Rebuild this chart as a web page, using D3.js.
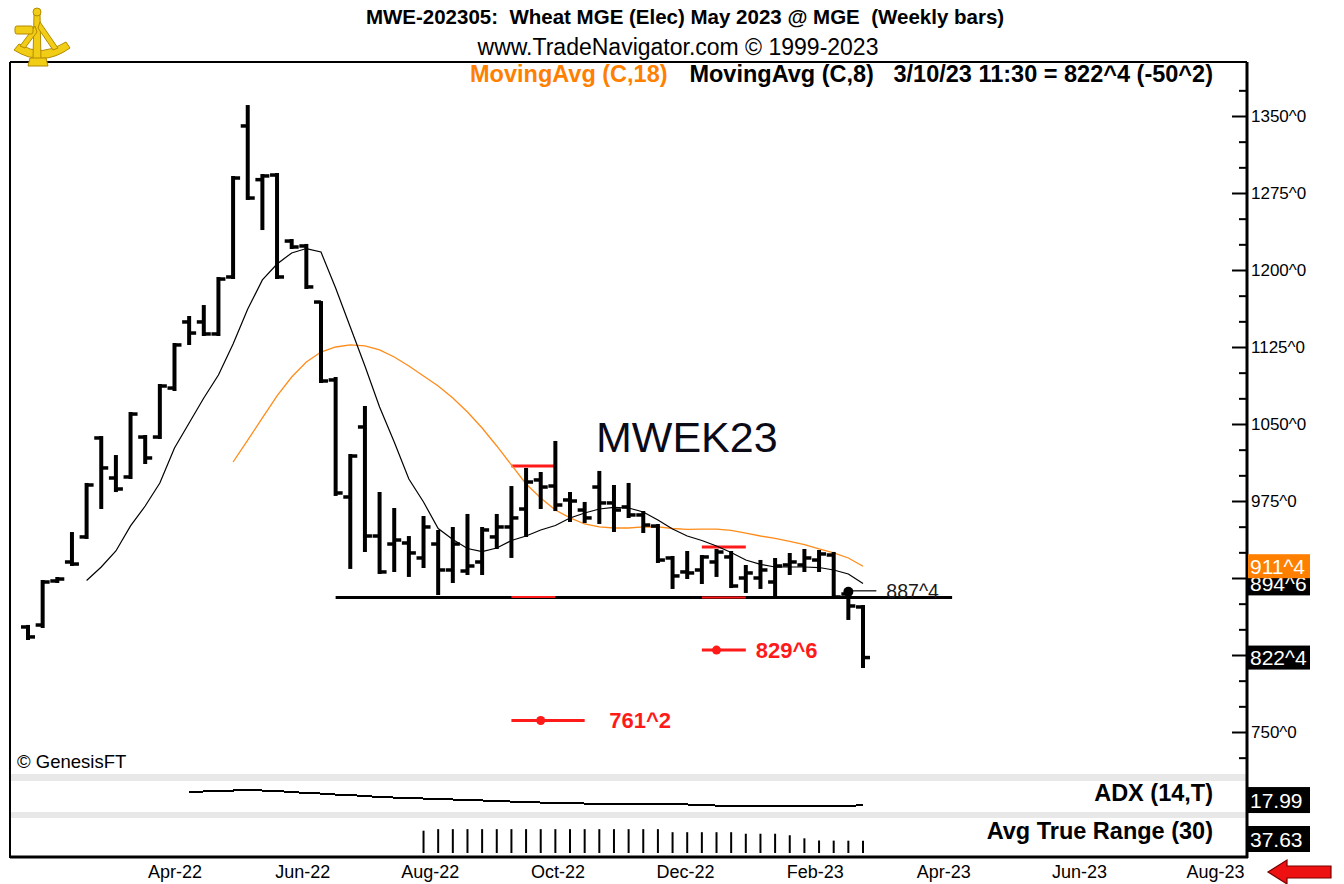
<!DOCTYPE html>
<meta charset="utf-8">
<style>
body { margin: 0; background: #fff; }
svg { display: block; font-family: 'Liberation Sans', Arial, sans-serif; }
</style>
<body>
<svg id="chart" width="1344" height="884"></svg>
<script src="https://d3js.org/d3.v7.min.js"></script>
<script>
// weekly OHLC, first bar week of 4-Feb-2022, last bar week of 10-Mar-2023
var opens  = [852.3, 854.2, 897.1, 915.6, 940.0, 1036.4, 997.4, 998.4, 1037.3, 1037.3,
              1085.0, 1149.4, 1149.4, 1137.7, 1193.2, 1340.3, 1288.0, 1292.5, 1228.2, 1223.4,
              1168.8, 1092.9, 978.9, 1047.1, 940.9, 933.1, 934.1, 919.5, 933.1, 907.8,
              906.8, 915.6, 940.0, 949.7, 967.2, 995.5, 989.6, 976.0, 966.2, 988.6,
              973.1, 969.2, 961.4, 950.6, 919.5, 905.9, 907.8, 915.6, 920.5, 900.0,
              900.0, 896.1, 912.7, 912.7, 917.5, 922.4, 884.4, 871.8];
var highs  = [853.3, 897.1, 900.0, 943.8, 991.6, 1037.3, 1018.8, 1060.7, 1038.3, 1088.0,
              1127.9, 1154.2, 1164.9, 1192.2, 1290.6, 1359.7, 1292.5, 1293.5, 1229.2, 1224.4,
              1168.8, 1094.8, 1019.8, 1066.6, 982.8, 967.2, 939.9, 959.4, 945.8, 948.7,
              961.4, 948.7, 961.4, 988.6, 1006.2, 1002.3, 1032.5, 982.8, 973.1, 1003.3,
              989.6, 991.6, 964.3, 951.6, 920.5, 925.3, 921.4, 927.3, 925.3, 911.7,
              916.6, 918.5, 923.4, 927.3, 926.3, 924.4, 887.5, 872.7];
var lows   = [840.6, 852.3, 896.1, 912.7, 939.0, 968.2, 984.7, 997.4, 1012.0, 1036.4,
              1083.1, 1127.9, 1136.7, 1136.7, 1192.2, 1269.2, 1239.9, 1192.2, 1221.4, 1182.5,
              1090.9, 980.9, 909.8, 926.3, 904.9, 906.8, 902.0, 910.7, 884.4, 896.1,
              903.9, 903.9, 929.2, 920.5, 940.9, 968.2, 966.2, 955.5, 954.5, 953.6,
              945.8, 959.4, 944.8, 915.6, 890.3, 900.0, 895.1, 902.0, 891.2, 886.4,
              890.3, 880.5, 903.9, 906.8, 906.8, 880.5, 860.1, 813.3];
var closes = [842.6, 896.1, 899.0, 913.6, 990.6, 1007.2, 986.7, 1059.7, 1016.9, 1087.0,
              1127.0, 1138.6, 1137.7, 1191.2, 1289.6, 1270.1, 1291.6, 1193.2, 1222.4, 1183.5,
              1091.9, 982.8, 1018.8, 940.9, 905.9, 937.0, 924.4, 949.7, 907.8, 933.1,
              911.7, 946.8, 949.7, 958.5, 993.5, 988.6, 971.1, 975.0, 958.5, 973.1,
              966.2, 961.4, 951.6, 917.5, 902.0, 904.9, 920.5, 925.3, 892.2, 904.9,
              907.8, 911.7, 915.6, 919.5, 923.4, 881.5, 872.75, 822.5];

// MovingAvg (C,8) black, MovingAvg (C,18) orange
var ma8  = [null, null, null, null, 897.6, 910.7, 926.3, 950.7, 970.1, 992.5,
            1026.6, 1051.0, 1075.3, 1097.7, 1127.9, 1162.0, 1190.3, 1205.8, 1216.6, 1220.9,
            1217.5, 1182.5, 1144.5, 1106.5, 1066.6, 1032.5, 996.4, 974.0, 948.2, 937.5,
            928.7, 925.8, 929.2, 936.5, 940.9, 946.8, 951.1, 958.5, 963.3, 967.2,
            968.7, 968.2, 964.3, 956.5, 947.7, 940.9, 936.5, 931.2, 924.8, 917.5,
            913.2, 910.7, 910.7, 910.7, 910.2, 907.8, 903.9, 894.75];
var ma18 = [null, null, null, null, null, null, null, null, null, null,
            null, null, null, null, 1013.0, 1034.4, 1055.9, 1077.3, 1095.8, 1110.4,
            1120.1, 1125.0, 1127.0, 1126.0, 1122.1, 1115.3, 1106.5, 1096.8, 1087.0, 1075.3,
            1061.7, 1046.1, 1028.6, 1010.1, 991.6, 977.9, 966.2, 958.5, 952.6, 949.7,
            948.7, 948.7, 949.7, 949.7, 948.2, 947.3, 947.7, 947.7, 946.3, 943.8,
            940.9, 938.5, 935.6, 932.6, 928.3, 924.4, 919.5, 911.5];

// ADX (14,T) and Avg True Range (30)
var adx = [null, null, null, null, null, null, null, null, null, null,
           null, 30.0, 30.5, 30.9, 31.4, 31.9, 31.4, 30.9, 30.0, 29.1,
           28.6, 27.7, 27.2, 26.3, 25.4, 24.9, 24.5, 24.0, 23.5, 23.1,
           22.6, 22.2, 21.7, 21.2, 20.8, 20.3, 19.8, 19.8, 19.4, 19.4,
           19.4, 18.9, 18.9, 18.9, 18.5, 18.5, 18.0, 17.5, 17.5, 17.1,
           17.1, 17.1, 17.1, 17.1, 17.1, 17.1, 17.1, 17.99];
var atr = [null, null, null, null, null, null, null, null, null, null,
           null, null, null, null, null, null, null, null, null, null,
           null, null, null, null, null, null, null, 68.7, 73.4, 73.4,
           73.4, 73.4, 73.4, 73.4, 73.4, 73.4, 73.4, 73.4, 73.4, 73.4,
           73.4, 73.4, 73.4, 73.4, 64.0, 64.0, 64.0, 64.0, 64.0, 59.3,
           59.3, 59.3, 54.6, 45.2, 38.5, 38.1, 37.9, 37.63];

var monthLabels = ["Apr-22", "Jun-22", "Aug-22", "Oct-22", "Dec-22", "Feb-23", "Apr-23", "Jun-23", "Aug-23"];
var priceLabels = [750, 825, 900, 975, 1050, 1125, 1200, 1275, 1350];
var priceMinor = [725, 775, 800, 850, 875, 925, 950, 1000, 1025, 1075, 1100, 1150, 1175, 1225, 1250, 1300, 1325, 1375];

// drawn studies on the chart (bar index, price)
var supportLine = {from: 21, toDate: new Date(2023, 3, 19), price: 881};
var flagTops = [{a: 33, b: 36, price: 1009.1}, {a: 46, b: 49, price: 930.2}];
var flagBase = [{a: 33, b: 36, price: 881.5}, {a: 46, b: 49, price: 881}];
var targets = [{a: 33, b: 38, dot: 35, labelAt: 39, price: 761.25, label: "761^2"},
               {a: 46, b: 49, dot: 47, labelAt: 49, price: 829.75, label: "829^6"}];
var highMark = {bar: 56, price: 887.5, label: "887^4"};
var lastValues = [{label: "894^6", price: 894.75, fill: "#000"},
                  {label: "911^4", price: 911.5, fill: "#ff8000"},
                  {label: "822^4", price: 822.5, fill: "#000"}];

var weeks = d3.timeFriday.range(new Date(2022, 1, 4), new Date(2023, 2, 11));
var data = weeks.map(function(d, i) {
  return {date: d, o: opens[i], h: highs[i], l: lows[i], c: closes[i],
          ma8: ma8[i], ma18: ma18[i], adx: adx[i], atr: atr[i]};
});

var frame = {left: 10, top: 62, right: 1247, bottom: 857};

var x = d3.scaleTime()
    .domain([weeks[0], weeks[weeks.length - 1], new Date(2023, 7, 15)])
    .range([28, 863, 1215]);
var y = d3.scaleLinear().domain([750, 1350]).range([732, 116]);
var yAdx = d3.scaleLinear().domain([10, 40]).range([813.7, 781.2]);
var yAtr = d3.scaleLinear().domain([0, 80]).range([853, 827]);

var svg = d3.select("#chart");

// panel separators
svg.append("rect").attr("x", frame.left).attr("y", 774).attr("width", frame.right - frame.left).attr("height", 7).attr("fill", "#e8e8e8");
svg.append("rect").attr("x", frame.left).attr("y", 812).attr("width", frame.right - frame.left).attr("height", 6).attr("fill", "#e8e8e8");

// frame
svg.append("line").attr("x1", frame.left).attr("x2", frame.left).attr("y1", frame.top).attr("y2", frame.bottom + 1)
  .attr("stroke", "#000").attr("stroke-width", 2);
svg.append("line").attr("x1", frame.left).attr("x2", frame.right).attr("y1", frame.top).attr("y2", frame.top)
  .attr("stroke", "#000").attr("stroke-width", 2);
svg.append("line").attr("x1", frame.left).attr("x2", frame.right + 1).attr("y1", frame.bottom).attr("y2", frame.bottom)
  .attr("stroke", "#000").attr("stroke-width", 3);

// header
svg.append("text").attr("x", 685).attr("y", 24).attr("text-anchor", "middle")
  .attr("font-weight", "bold").attr("font-size", "20.5px")
  .style("white-space", "pre")
  .text("MWE-202305:  Wheat MGE (Elec) May 2023 @ MGE  (Weekly bars)");
svg.append("text").attr("x", 678).attr("y", 55).attr("text-anchor", "middle")
  .attr("font-size", "23px")
  .text("www.TradeNavigator.com \u00a9 1999-2023");
svg.append("text").attr("x", 470).attr("y", 82)
  .attr("font-weight", "bold").attr("font-size", "23.5px").attr("fill", "#ff7f00")
  .text("MovingAvg (C,18)");
svg.append("text").attr("x", 1213).attr("y", 82).attr("text-anchor", "end")
  .attr("font-weight", "bold").attr("font-size", "23.5px").attr("fill", "#000").style("white-space", "pre")
  .text("MovingAvg (C,8)   3/10/23 11:30 = 822^4 (-50^2)");

// right price axis
var axisMinor = d3.axisRight(y).tickValues(priceMinor).tickSizeInner(-8).tickSizeOuter(0).tickFormat("");
var axisMajor = d3.axisRight(y).tickValues(priceLabels).tickSizeInner(-15).tickSizeOuter(0).tickPadding(4)
  .tickFormat(function(d) { return d + "^0"; });
svg.append("g").attr("transform", "translate(" + frame.right + ",0)").call(axisMinor)
  .call(function(g) { g.select(".domain").remove(); })
  .selectAll("line").attr("stroke", "#000").attr("stroke-width", 2);
svg.append("g").attr("class", "yaxis").attr("transform", "translate(" + frame.right + ",0)").call(axisMajor)
  .call(function(g) { g.select(".domain").remove(); })
  .style("font-family", "'Liberation Sans', Arial, sans-serif").style("font-size", "17px")
  .selectAll("line").attr("stroke", "#000").attr("stroke-width", 2);
svg.append("line").attr("x1", frame.right).attr("x2", frame.right).attr("y1", frame.top).attr("y2", frame.bottom + 1)
  .attr("stroke", "#000").attr("stroke-width", 3);

// support line
svg.append("line")
  .attr("x1", x(weeks[supportLine.from])).attr("x2", x(supportLine.toDate))
  .attr("y1", y(supportLine.price)).attr("y2", y(supportLine.price))
  .attr("stroke", "#000").attr("stroke-width", 3);

// flag lines
svg.selectAll(".flagtop").data(flagTops).enter().append("line")
  .attr("x1", function(d) { return x(weeks[d.a]); }).attr("x2", function(d) { return x(weeks[d.b]); })
  .attr("y1", function(d) { return y(d.price); }).attr("y2", function(d) { return y(d.price); })
  .attr("stroke", "#ff1a1a").attr("stroke-width", 3);
svg.selectAll(".flagbase").data(flagBase).enter().append("line")
  .attr("x1", function(d) { return x(weeks[d.a]); }).attr("x2", function(d) { return x(weeks[d.b]); })
  .attr("y1", function(d) { return y(d.price); }).attr("y2", function(d) { return y(d.price); })
  .attr("stroke", "#ff1a1a").attr("stroke-width", 2);

// targets
var tg = svg.selectAll(".target").data(targets).enter().append("g");
tg.append("line")
  .attr("x1", function(d) { return x(weeks[d.a]); }).attr("x2", function(d) { return x(weeks[d.b]); })
  .attr("y1", function(d) { return y(d.price); }).attr("y2", function(d) { return y(d.price); })
  .attr("stroke", "#ff1a1a").attr("stroke-width", 3);
tg.append("circle").attr("cx", function(d) { return x(weeks[d.dot]); }).attr("cy", function(d) { return y(d.price); })
  .attr("r", 4.5).attr("fill", "#ff1a1a");
tg.append("text").attr("x", function(d) { return x(weeks[d.labelAt]) + 10; }).attr("y", function(d) { return y(d.price); })
  .attr("dy", "0.36em").attr("fill", "#ff1a1a").attr("font-weight", "bold").attr("font-size", "22px")
  .text(function(d) { return d.label; });

// moving averages
var lineMa8 = d3.line().defined(function(d) { return d.ma8 != null; })
  .x(function(d) { return x(d.date); }).y(function(d) { return y(d.ma8); });
var lineMa18 = d3.line().defined(function(d) { return d.ma18 != null; })
  .x(function(d) { return x(d.date); }).y(function(d) { return y(d.ma18); });
svg.append("path").datum(data).attr("d", lineMa18).attr("fill", "none").attr("stroke", "#ff8c1a").attr("stroke-width", 1.3);
svg.append("path").datum(data).attr("d", lineMa8).attr("fill", "none").attr("stroke", "#000").attr("stroke-width", 1.2);

// OHLC bars
var bars = svg.selectAll(".bar").data(data).enter().append("g").attr("class", "bar");
bars.append("line")
  .attr("x1", function(d) { return x(d.date); }).attr("x2", function(d) { return x(d.date); })
  .attr("y1", function(d) { return y(d.h) - 1; }).attr("y2", function(d) { return y(d.l) + 1; })
  .attr("stroke", "#000").attr("stroke-width", 4);
bars.append("line")
  .attr("x1", function(d) { return x(d.date) - 7; }).attr("x2", function(d) { return x(d.date); })
  .attr("y1", function(d) { return y(d.o); }).attr("y2", function(d) { return y(d.o); })
  .attr("stroke", "#000").attr("stroke-width", 3.5);
bars.append("line")
  .attr("x1", function(d) { return x(d.date); }).attr("x2", function(d) { return x(d.date) + 7; })
  .attr("y1", function(d) { return y(d.c); }).attr("y2", function(d) { return y(d.c); })
  .attr("stroke", "#000").attr("stroke-width", 3.5);

// high marker
var hx = x(weeks[highMark.bar]);
svg.append("line").attr("x1", hx).attr("x2", hx + 28).attr("y1", y(highMark.price)).attr("y2", y(highMark.price))
  .attr("stroke", "#000").attr("stroke-width", 1.2);
svg.append("circle").attr("cx", hx).attr("cy", y(highMark.price) + 1).attr("r", 5).attr("fill", "#000");
svg.append("text").attr("x", hx + 38).attr("y", y(highMark.price)).attr("dy", "0.36em")
  .attr("font-size", "19.5px").attr("fill", "#1a1a1a").text(highMark.label);

// symbol label
svg.append("text").attr("x", 596).attr("y", 452).attr("font-size", "43px").attr("fill", "#0b0b18").text("MWEK23");
svg.append("text").attr("x", 17).attr("y", 768).attr("font-size", "18.5px").text("\u00a9 GenesisFT");

// last value boxes
var boxes = svg.selectAll(".lastval").data(lastValues).enter().append("g");
boxes.append("rect").attr("x", frame.right + 1).attr("y", function(d) { return y(d.price) - 12; })
  .attr("width", 62).attr("height", 24).attr("fill", function(d) { return d.fill; });
boxes.append("text").attr("x", frame.right + 3).attr("y", function(d) { return y(d.price); }).attr("dy", "0.36em")
  .attr("font-size", "21px").attr("fill", "#fff").text(function(d) { return d.label; });

// ADX panel
var lineAdx = d3.line().defined(function(d) { return d.adx != null; })
  .x(function(d) { return x(d.date); }).y(function(d) { return yAdx(d.adx); });
svg.append("path").datum(data).attr("d", lineAdx).attr("fill", "none").attr("stroke", "#000")
  .attr("stroke-width", 2).attr("shape-rendering", "crispEdges");
svg.append("text").attr("x", 1213).attr("y", 801).attr("text-anchor", "end")
  .attr("font-weight", "bold").attr("font-size", "23.5px").text("ADX (14,T)");

// ATR panel
svg.selectAll(".atr").data(data.filter(function(d) { return d.atr != null; })).enter().append("line")
  .attr("x1", function(d) { return x(d.date); }).attr("x2", function(d) { return x(d.date); })
  .attr("y1", yAtr(0)).attr("y2", function(d) { return yAtr(d.atr); })
  .attr("stroke", "#000").attr("stroke-width", 2);
svg.append("text").attr("x", 1213).attr("y", 839).attr("text-anchor", "end")
  .attr("font-weight", "bold").attr("font-size", "23.5px").text("Avg True Range (30)");

var studyVals = [{label: "17.99", yy: yAdx(17.99) - 5}, {label: "37.63", yy: 839}];
var sv = svg.selectAll(".studyval").data(studyVals).enter().append("g");
sv.append("rect").attr("x", frame.right + 1).attr("y", function(d) { return d.yy - 13; })
  .attr("width", 62).attr("height", 26).attr("fill", "#000");
sv.append("text").attr("x", frame.right + 3).attr("y", function(d) { return d.yy; }).attr("dy", "0.36em")
  .attr("font-size", "21px").attr("fill", "#fff").text(function(d) { return d.label; });

// month axis, labels centred in the month
var parseMonth = d3.timeParse("%b-%y");
var monthMid = monthLabels.map(function(m) { return d3.timeDay.offset(parseMonth(m), 14); });
var xAxis = d3.axisBottom(x).tickValues(monthMid).tickSize(0).tickPadding(7)
  .tickFormat(d3.timeFormat("%b-%y"));
svg.append("g").attr("transform", "translate(0," + (frame.bottom + 1) + ")").call(xAxis)
  .call(function(g) { g.select(".domain").remove(); })
  .style("font-family", "'Liberation Sans', Arial, sans-serif").style("font-size", "18px");

// red arrow bottom right
svg.append("path")
  .attr("d", "M1268,872 L1287,860 L1287,866 L1331,866 L1331,878 L1287,878 L1287,884 Z")
  .attr("fill", "#ee1111").attr("stroke", "#7a0000").attr("stroke-width", 1.2);

// logo (sextant)
var logo = svg.append("g").attr("fill", "#f2cd16").attr("stroke", "#b48a00").attr("stroke-width", 1);
logo.append("path").attr("d", "M14,50 Q42,68 70,48 L66,42 Q42,58 19,44 Z");
logo.append("path").attr("d", "M34,14 L40,14 L41,60 L33,60 Z");
logo.append("path").attr("d", "M40,22 L58,48 L53,50 L38,28 Z");
logo.append("path").attr("d", "M35,26 L20,46 L25,48 L37,32 Z");
logo.append("rect").attr("x", 15).attr("y", 26).attr("width", 18).attr("height", 8).attr("rx", 2);
logo.append("circle").attr("cx", 37).attr("cy", 12).attr("r", 4);
logo.append("path").attr("d", "M30,58 L46,58 L48,66 L28,66 Z");
</script>
</body>
